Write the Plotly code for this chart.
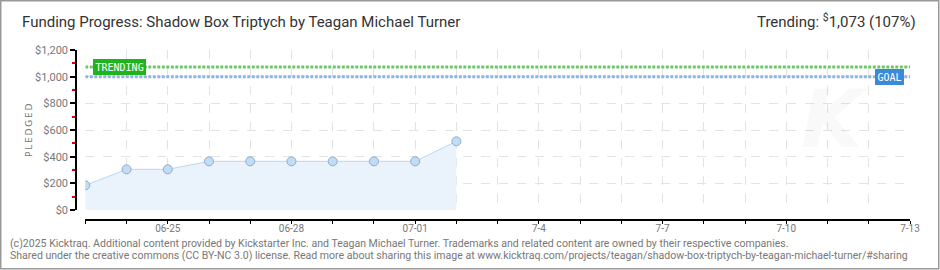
import plotly.graph_objects as go

# ---- data ----
dates = ["2025-06-23", "2025-06-24", "2025-06-25", "2025-06-26", "2025-06-27",
         "2025-06-28", "2025-06-29", "2025-06-30", "2025-07-01", "2025-07-02"]
pledged = [185, 305, 305, 365, 365, 365, 365, 365, 365, 515]
goal = 1000
trending = 1073
trend_pct = 107
axis_start = "2025-06-23"
axis_end = "2025-07-13"
xtick_vals = ["2025-06-25", "2025-06-28", "2025-07-01", "2025-07-04",
              "2025-07-07", "2025-07-10", "2025-07-13"]
xtick_text = ["06-25", "06-28", "07-01", "7-4", "7-7", "7-10", "7-13"]
ytick_vals = [0, 200, 400, 600, 800, 1000, 1200]
ytick_text = ["$" + f"{v:,}" for v in ytick_vals]

title = "Funding Progress: Shadow Box Triptych by Teagan Michael Turner"
footer1 = ("(c)2025 Kicktraq. Additional content provided by Kickstarter Inc. and Teagan Michael Turner. "
           "Trademarks and related content are owned by their respective companies.")
footer2 = ("Shared under the creative commons (CC BY-NC 3.0) license. Read more about sharing this image at "
           "www.kicktraq.com/projects/teagan/shadow-box-triptych-by-teagan-michael-turner/#sharing")

W, H = 940, 270
ML, MR, MT, MB = 76, 30, 50, 50
PW = W - ML - MR
PH = H - MT - MB

FONT = "Roboto, DejaVu Sans, sans-serif"


def px(xpix):
    return (xpix - ML) / PW


def py(ypix):
    return (H - MB - ypix) / PH


fig = go.Figure()

fig.add_trace(go.Scatter(
    x=dates, y=pledged, mode="lines+markers", fill="tozeroy",
    fillcolor="rgba(234,242,252,1)",
    line=dict(color="#bcd6f0", width=1),
    marker=dict(size=9, color="#c3dcf6", line=dict(color="#8faccc", width=1)),
    hoverinfo="skip", showlegend=False))

fig.add_trace(go.Scatter(
    x=[axis_start, axis_end], y=[trending, trending], mode="lines",
    line=dict(color="#6cc864", width=3, dash="3px,1.5px"),
    hoverinfo="skip", showlegend=False))

fig.add_trace(go.Scatter(
    x=[axis_start, axis_end], y=[goal, goal], mode="lines",
    line=dict(color="#8fb2e0", width=3, dash="3px,1.5px"),
    hoverinfo="skip", showlegend=False))

fig.update_layout(
    width=W, height=H,
    margin=dict(l=ML, r=MR, t=MT, b=MB),
    paper_bgcolor="white", plot_bgcolor="white",
    xaxis=dict(
        type="date", range=[axis_start, axis_end],
        domain=[9.3 / PW, 1], anchor="free", position=0,
        tickmode="array", tickvals=xtick_vals, ticktext=xtick_text,
        ticks="outside", ticklen=3, tickcolor="#000", tickwidth=1,
        ticklabelstandoff=-4,
        showline=True, linecolor="#000", linewidth=1.5,
        showgrid=True, gridcolor="#e3e3e3", griddash="dash", gridwidth=1,
        zeroline=False,
        tickfont=dict(family=FONT, size=10, color="#777"),
        minor=dict(dtick=86400000, tick0=axis_start, ticks="outside", ticklen=3,
                   tickcolor="#000", showgrid=True, gridcolor="#e3e3e3",
                   griddash="dash", gridwidth=1),
    ),
    yaxis=dict(
        range=[0, 1200], domain=[10 / PH, 1], anchor="free", position=0,
        tickmode="array", tickvals=ytick_vals, ticktext=ytick_text,
        ticks="outside", ticklen=5, tickcolor="#000", tickwidth=1.5,
        showline=True, linecolor="#000", linewidth=1.5,
        showgrid=True, gridcolor="#e3e3e3", griddash="dash", gridwidth=1,
        zeroline=False,
        tickfont=dict(family=FONT, size=11, color="#777"),
        minor=dict(dtick=200, tick0=100, ticks="outside", ticklen=3,
                   tickcolor="#e00000", showgrid=False),
    ),
)

# labels on reference lines
fig.add_annotation(x=axis_start, y=trending, xref="x", yref="y",
                   text="TRENDING", showarrow=False, xanchor="left", xshift=8,
                   font=dict(family="DejaVu Sans Mono, monospace", size=10, color="white"),
                   bgcolor="#1fb41f", bordercolor="#1fb41f", borderpad=1.5)
fig.add_annotation(x=axis_end, y=goal, xref="x", yref="y",
                   text="GOAL", showarrow=False, xanchor="right", xshift=-6,
                   font=dict(family="DejaVu Sans Mono, monospace", size=10, color="white"),
                   bgcolor="#3b89d9", bordercolor="#3b89d9", borderpad=1.5)

# title & trending text
fig.add_annotation(x=px(20), y=py(22), xref="paper", yref="paper",
                   text=title, showarrow=False, xanchor="left", yanchor="middle",
                   font=dict(family=FONT, size=15, color="#333"))
fig.add_annotation(x=px(918), y=py(21), xref="paper", yref="paper",
                   text=f"Trending: <sup>$</sup>{trending:,} ({trend_pct}%)", showarrow=False,
                   xanchor="right", yanchor="middle",
                   font=dict(family=FONT, size=15, color="#333"))

# axis title
fig.add_annotation(x=px(22), y=py(130), xref="paper", yref="paper",
                   text="\u2009".join("PLEDGED"), showarrow=False, textangle=-90,
                   font=dict(family="DejaVu Sans, sans-serif", size=9, color="#777"))

# footer
fig.add_annotation(x=px(8), y=py(243), xref="paper", yref="paper",
                   text=footer1, showarrow=False, xanchor="left", yanchor="middle",
                   font=dict(family=FONT, size=10.55, color="#777"))
fig.add_annotation(x=px(8), y=py(256), xref="paper", yref="paper",
                   text=footer2, showarrow=False, xanchor="left", yanchor="middle",
                   font=dict(family=FONT, size=10.55, color="#777"))

# faint watermark
fig.add_annotation(x=px(870), y=py(168), xref="paper", yref="paper",
                   text="<i><b>K</b></i>", showarrow=False,
                   font=dict(family="DejaVu Sans, sans-serif", size=80, color="rgba(0,0,0,0.025)"))

# outer border
fig.add_shape(type="rect", xref="paper", yref="paper",
              x0=px(0.75), x1=px(W - 1.25),
              y0=py(H - 1.25), y1=py(0.75),
              line=dict(color="#999", width=1.5), layer="below")

fig.write_html("out.html")
